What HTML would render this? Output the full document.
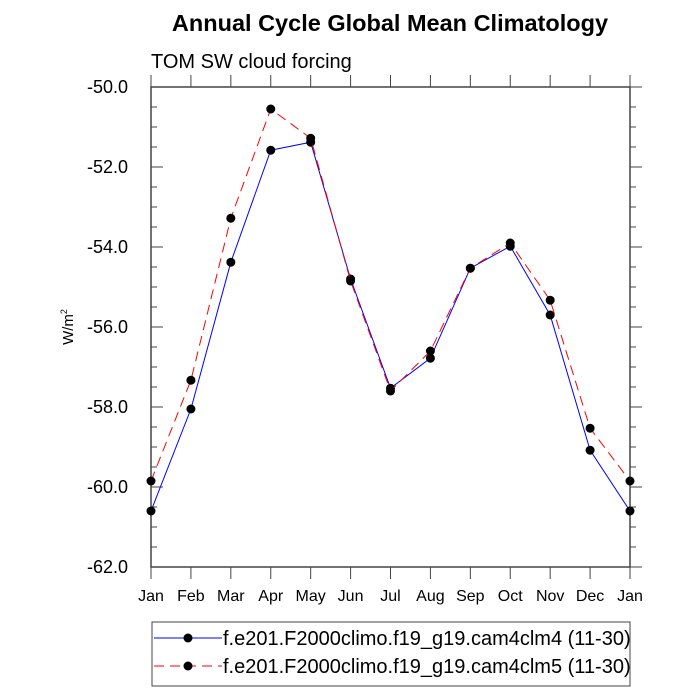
<!DOCTYPE html>
<html><head><meta charset="utf-8"><style>body{margin:0;background:#fff}svg{display:block;font-family:"Liberation Sans",sans-serif}</style></head>
<body>
<svg id="c" width="700" height="700">
<text x="390" y="31" text-anchor="middle" font-size="23.5" font-weight="bold">Annual Cycle Global Mean Climatology</text>
<text x="151" y="68" font-size="20">TOM SW cloud forcing</text>
<text transform="translate(73,327) rotate(-90)" text-anchor="middle" font-size="15">W/m<tspan font-size="9" dy="-6">2</tspan></text>
<g id="ax"></g><g id="series"></g>
<rect x="152" y="622" width="478" height="64" fill="none" stroke="#444"/>
<g>
<line x1="154" y1="638" x2="222" y2="638" stroke="#00f"/><circle cx="188" cy="638" r="4.5"/>
<text x="223" y="645" font-size="20">f.e201.F2000climo.f19_g19.cam4clm4 (11-30)</text></g>
<g>
<line x1="154" y1="666" x2="222" y2="666" stroke="#f00" stroke-dasharray="10,6"/><circle cx="188" cy="666" r="4.5"/>
<text x="223" y="673" font-size="20">f.e201.F2000climo.f19_g19.cam4clm5 (11-30)</text></g>
</svg>
<script>
const months=["Jan","Feb","Mar","Apr","May","Jun","Jul","Aug","Sep","Oct","Nov","Dec","Jan"];
const cam4=[-60.6,-58.05,-54.38,-51.58,-51.38,-54.8,-57.53,-56.78,-54.53,-53.98,-55.7,-59.08,-60.6];
const cam5=[-59.85,-57.33,-53.28,-50.55,-51.28,-54.85,-57.6,-56.6,-54.53,-53.9,-55.33,-58.53,-59.85];
const yTicks=[-50,-52,-54,-56,-58,-60,-62];
const yTickLabels=["-50.0","-52.0","-54.0","-56.0","-58.0","-60.0","-62.0"];
const X0=151,X1=630,Y0=87,Y1=567;
const xs=i=>X0+(X1-X0)*i/12, ys=v=>Y0+(Y1-Y0)*(-50-v)/12;
const NS="http://www.w3.org/2000/svg";
function mk(p,t,a){const e=document.createElementNS(NS,t);for(const k in a)e.setAttribute(k,a[k]);p.appendChild(e);return e;}
const ax=document.getElementById('ax');
const fr=mk(ax,'rect',{x:X0,y:Y0,width:X1-X0,height:Y1-Y0,fill:'none',stroke:'#444','stroke-width':1.5});


months.forEach((m,i)=>{const x=xs(i);
mk(ax,'line',{x1:x,y1:Y1,x2:x,y2:Y1+12,stroke:'#444'});
mk(ax,'line',{x1:x,y1:Y0,x2:x,y2:Y0-12,stroke:'#444'});
const t=mk(ax,'text',{x:x,y:Y1+34,'text-anchor':'middle','font-size':16});t.textContent=m;

});
for(let v=-50;v>=-62;v-=0.5){const y=ys(v);const maj=Math.abs(v%2)<1e-9;
mk(ax,'line',{x1:X0,y1:y,x2:X0+(maj?12:6),y2:y,stroke:'#444'});
mk(ax,'line',{x1:X1,y1:y,x2:X1+(maj?12:6),y2:y,stroke:'#444'});}
yTicks.forEach((v,i)=>{const t=mk(ax,'text',{x:X0-23,y:ys(v)+6,'text-anchor':'end','font-size':18});t.textContent=yTickLabels[i];

});
const sg=document.getElementById('series');
[[cam4,'#00f',null,'cam4'],[cam5,'#f00','10,6','cam5']].forEach(([d,c,da,n])=>{
const g=mk(sg,'g',{});


const a={points:d.map((v,i)=>xs(i)+','+ys(v)).join(' '),fill:'none',stroke:c};if(da)a['stroke-dasharray']=da;
mk(g,'polyline',a);
d.forEach((v,i)=>{const p=mk(g,'circle',{cx:xs(i),cy:ys(v),r:4.5});

});});
</script>
</body></html>
